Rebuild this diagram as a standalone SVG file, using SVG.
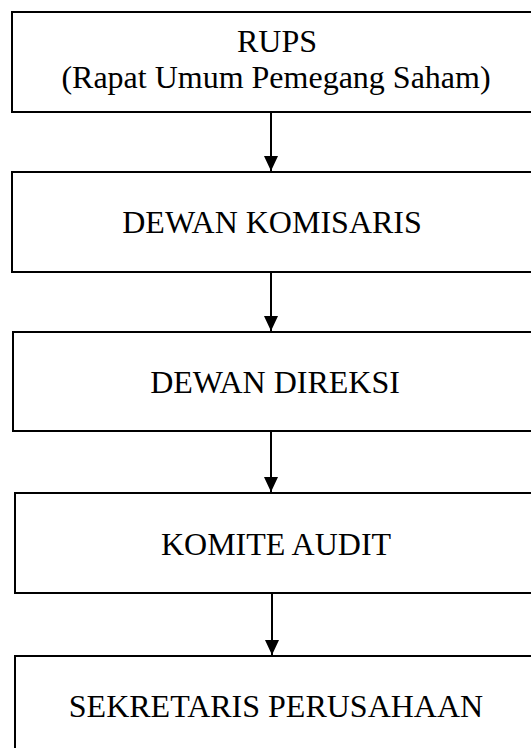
<svg xmlns="http://www.w3.org/2000/svg" width="531" height="748" viewBox="0 0 531 748">
<style>
.box{fill:#fff;stroke:#000;stroke-width:2}
.lbl{font-family:"Liberation Serif","Times New Roman",serif;font-size:32px;fill:#000;text-anchor:middle}
.conn{stroke:#000;stroke-width:2;fill:none}
</style>
<defs>
<marker id="ah" markerUnits="userSpaceOnUse" markerWidth="16" markerHeight="16" refX="15" refY="7" orient="auto">
<path d="M0,0 L15,7 L0,14 Z" fill="#000"/>
</marker>
</defs>
<rect width="531" height="748" fill="#fff"/>
<g id="n-rups">
<rect class="box" x="12" y="12" width="540" height="100"/>
<text class="lbl" x="277" y="52">RUPS</text>
<text class="lbl" x="276" y="88">(Rapat Umum Pemegang Saham)</text>
</g>
<g id="n-komisaris">
<rect class="box" x="12" y="172" width="540" height="100"/>
<text class="lbl" x="272" y="233">DEWAN KOMISARIS</text>
</g>
<g id="n-direksi">
<rect class="box" x="13" y="332" width="540" height="99"/>
<text class="lbl" x="275" y="393">DEWAN DIREKSI</text>
</g>
<g id="n-audit">
<rect class="box" x="15" y="493" width="540" height="100"/>
<text class="lbl" x="276" y="555">KOMITE AUDIT</text>
</g>
<g id="n-sekretaris">
<rect class="box" x="15" y="656" width="540" height="110"/>
<text class="lbl" x="276" y="717">SEKRETARIS PERUSAHAAN</text>
</g>
<g id="connectors">
<line class="conn" x1="271" y1="112" x2="271" y2="171" marker-end="url(#ah)"/>
<line class="conn" x1="271" y1="272" x2="271" y2="331" marker-end="url(#ah)"/>
<line class="conn" x1="271" y1="431" x2="271" y2="492" marker-end="url(#ah)"/>
<line class="conn" x1="272" y1="594" x2="272" y2="655" marker-end="url(#ah)"/>
</g>
</svg>
